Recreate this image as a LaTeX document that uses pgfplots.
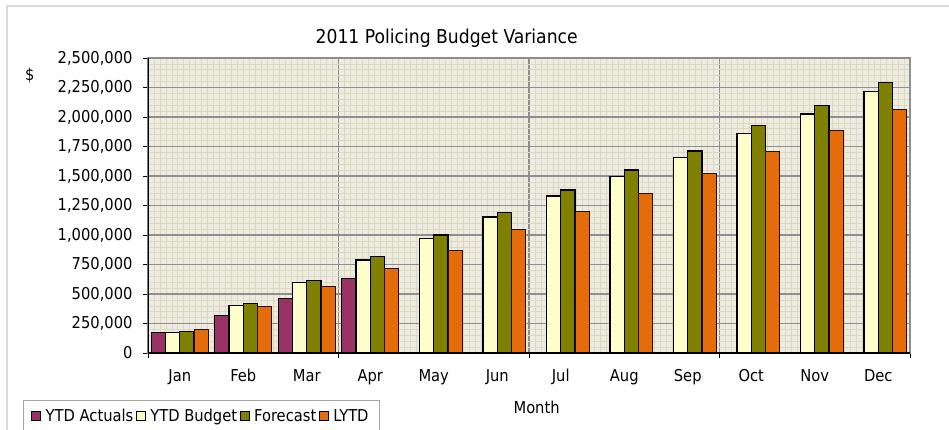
\documentclass[border=0pt]{standalone}
\usepackage{fontspec}
\setmainfont{DejaVu Sans Condensed}
\usepackage{pgfplots}
\pgfplotsset{compat=1.18}
\definecolor{bg}{HTML}{EEECE1}
\definecolor{mingrid}{HTML}{DCD8C4}
\definecolor{majgrid}{HTML}{8E8E8E}
\definecolor{actual}{HTML}{993366}
\definecolor{budget}{HTML}{FFFFCC}
\definecolor{forecast}{HTML}{808000}
\definecolor{lytd}{HTML}{E46C0A}
\pgfplotsset{sq legend/.style={legend image code/.code={\draw[##1,draw=black,line width=1bp] (0bp,-4.5bp) rectangle (9bp,4.5bp);}}}
\begin{document}
\begin{tikzpicture}[font=\fontsize{16.4}{19}\selectfont]
\draw[black!15, line width=2bp] (-141bp,-150bp) rectangle (900bp,347bp);
\begin{axis}[
  at={(0bp,0bp)}, anchor=south west,
  scale only axis, width=762bp, height=295bp,
  ybar=0pt, bar width=0.225,
  xmin=-0.5, xmax=11.5, ymin=0, ymax=2500000,
  axis background/.style={fill=bg},
  xtick={-0.5,2.5,5.5,8.5,11.5}, xticklabels={},
  minor x tick num=31,
  ytick={0,250000,500000,750000,1000000,1250000,1500000,1750000,2000000,2250000,2500000},
  minor y tick num=4,
  scaled y ticks=false,
  yticklabel style={/pgf/number format/.cd, fixed, 1000 sep={,}, assume math mode=true, /tikz/.cd, xshift=-7bp},
  xmajorgrids, ymajorgrids, xminorgrids, yminorgrids,
  minor grid style={mingrid, line width=0.6bp},
  major grid style={majgrid, line width=1.1bp},
  minor tick length=0pt,
  tick align=outside, major tick length=5bp,
  tick style={black, line width=0.8bp},
  tick pos=left,
  axis line style={majgrid, line width=1.5bp},
  extra x ticks={0,1,2,3,4,5,6,7,8,9,10,11},
  extra x tick labels={Jan,Feb,Mar,Apr,May,Jun,Jul,Aug,Sep,Oct,Nov,Dec},
  extra x tick style={grid=none, major tick length=0pt, tick style={draw=none}, xticklabel style={yshift=-13bp}},
  title={2011 Policing Budget Variance},
  title style={at={(axis description cs:0.392,1.03)}, anchor=base, font=\fontsize{19.2}{22}\selectfont},
  ylabel={\$},
  ylabel style={rotate=-90, at={(axis description cs:-0.155,0.942)}, anchor=center},
  xlabel={Month},
  xlabel style={at={(axis description cs:0.51,-0.183)}, anchor=center},
  legend columns=4,
  legend style={at={(axis description cs:-0.1644,-0.159)}, anchor=north west, draw=black!35, line width=1bp, fill=white,
    /tikz/every even column/.append style={column sep=0bp},
    /tikz/every odd column/.append style={column sep=2bp},
    nodes={inner xsep=2.5bp},
    inner xsep=8bp, inner ysep=7bp, font=\fontsize{16.4}{19}\selectfont},
  legend cell align=left,
]
\addplot[fill=actual, draw=black, line width=1bp, sq legend] coordinates {(0,170000) (1,318000) (2,466000) (3,631000)};
\addplot[fill=budget, draw=black, line width=1.3bp, sq legend] coordinates {(0,176000) (1,403000) (2,599000) (3,787000) (4,969000) (5,1152000) (6,1331000) (7,1497000) (8,1655000) (9,1862000) (10,2025000) (11,2219000)};
\addplot[fill=forecast, draw=black, line width=1.3bp, sq legend] coordinates {(0,184000) (1,420000) (2,616000) (3,815000) (4,1000000) (5,1191000) (6,1382000) (7,1550000) (8,1713000) (9,1927000) (10,2095000) (11,2295000)};
\addplot[fill=lytd, draw=black!85!lytd, line width=1bp, sq legend] coordinates {(0,196000) (1,392000) (2,565000) (3,719000) (4,871000) (5,1045000) (6,1202000) (7,1350000) (8,1517000) (9,1705000) (10,1885000) (11,2067000)};
\legend{YTD Actuals, YTD Budget, Forecast, LYTD}
\draw[black, line width=1.5bp] (rel axis cs:0,0) -- (rel axis cs:0,1);
\draw[black, line width=1.5bp] (rel axis cs:0,0) -- (rel axis cs:1,0);
\end{axis}
\pgfresetboundingbox
\useasboundingbox (-148bp,-77bp) rectangle (801bp,353bp);
\end{tikzpicture}
\end{document}
